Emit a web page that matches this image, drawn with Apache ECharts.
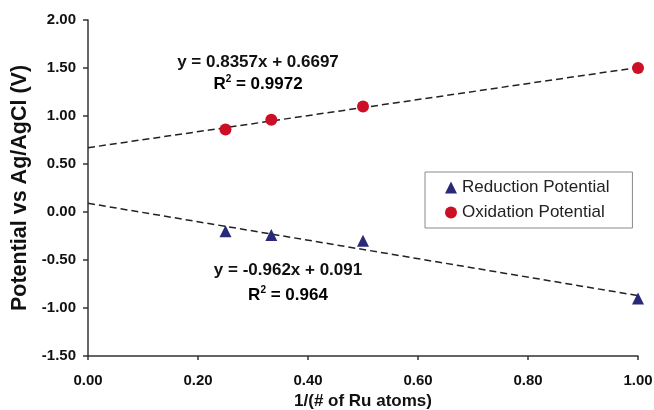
<!DOCTYPE html>
<html>
<head>
<meta charset="utf-8">
<script src="https://cdn.jsdelivr.net/npm/echarts@6/dist/echarts.min.js"></script>
<style>html,body{margin:0;padding:0;background:#fff;}#c{width:654px;height:410px;}</style>
</head>
<body>
<div id="c"></div>
<script>
var xValues = [0.25, 0.3333, 0.5, 1.0];
var reductionValues = [-0.20, -0.24, -0.30, -0.90];
var oxidationValues = [0.86, 0.96, 1.10, 1.50];
var oxTrendX = [0, 1];
var oxTrendY = [0.6697, 1.5054];
var redTrendX = [0, 1];
var redTrendY = [0.091, -0.871];
var xTicks = ['0.00', '0.20', '0.40', '0.60', '0.80', '1.00'];
var oxEquation = 'y = 0.8357x + 0.6697';
var oxR2 = '0.9972';
var redEquation = 'y = -0.962x + 0.091';
var redR2 = '0.964';

function pairs(xs, ys) { return xs.map(function (x, i) { return [x, ys[i]]; }); }

var FONT = '"Liberation Sans", Arial, sans-serif';
var richR2 = {
  a: {fontFamily: FONT, fontWeight: 'bold', fontSize: 17, color: '#111', lineHeight: 20},
  s: {fontFamily: FONT, fontWeight: 'bold', fontSize: 10, color: '#111', verticalAlign: 'top', lineHeight: 12}
};
function r2Text(v) { return '{a|R}{s|2}{a| = ' + v + '}'; }

var chart = echarts.init(document.getElementById('c'), null, {renderer: 'canvas'});
chart.setOption({
  animation: false,
  backgroundColor: '#ffffff',
  grid: {left: 88, right: 16, top: 20, bottom: 54, containLabel: false, outerBoundsMode: 'none'},
  xAxis: {
    type: 'value', min: 0, max: 1, interval: 0.2,
    name: '1/(# of Ru atoms)', nameLocation: 'middle', nameGap: 31,
    nameTextStyle: {fontFamily: FONT, fontWeight: 'bold', fontSize: 17, color: '#111'},
    axisLine: {show: true, onZero: false, lineStyle: {color: '#333', width: 1.5}},
    axisTick: {show: true, inside: false, length: 4, lineStyle: {color: '#333', width: 1.5}},
    axisLabel: {margin: 17, fontFamily: FONT, fontWeight: 'bold', fontSize: 15, color: '#111',
      formatter: function (v) { return xTicks[Math.round(v / 0.2)]; }},
    splitLine: {show: false}
  },
  yAxis: {
    type: 'value', min: -1.5, max: 2, interval: 0.5,
    name: 'Potential vs Ag/AgCl (V)', nameLocation: 'middle', nameGap: 53,
    nameTextStyle: {fontFamily: FONT, fontWeight: 'bold', fontSize: 21.5, color: '#111'},
    axisLine: {show: true, onZero: false, lineStyle: {color: '#333', width: 1.5}},
    axisTick: {show: true, length: 5, lineStyle: {color: '#333', width: 1.5}},
    axisLabel: {margin: 12, fontFamily: FONT, fontWeight: 'bold', fontSize: 15, color: '#111',
      formatter: function (v) { return v.toFixed(2); }},
    splitLine: {show: false}
  },
  legend: {
    orient: 'vertical', left: 425, top: 172,
    padding: [7, 23, 7, 20], itemGap: 8, itemWidth: 12, itemHeight: 12, itemTextGap: 5,
    borderColor: '#8a8a8a', borderWidth: 1, backgroundColor: '#fff',
    textStyle: {fontFamily: FONT, fontSize: 17, color: '#222'},
    data: [{name: 'Reduction Potential', icon: 'triangle'}, {name: 'Oxidation Potential', icon: 'circle'}]
  },
  series: [
    {name: 'oxTrend', type: 'line', data: pairs(oxTrendX, oxTrendY), symbol: 'none', silent: true, z: 1,
      lineStyle: {color: '#222', width: 1.5, type: [7, 4]}},
    {name: 'redTrend', type: 'line', data: pairs(redTrendX, redTrendY), symbol: 'none', silent: true, z: 1,
      lineStyle: {color: '#222', width: 1.5, type: [7, 4]}},
    {name: 'Reduction Potential', type: 'scatter', data: pairs(xValues, reductionValues), symbol: 'triangle',
      symbolSize: 12, itemStyle: {color: '#29297a', opacity: 1}, z: 3},
    {name: 'Oxidation Potential', type: 'scatter', data: pairs(xValues, oxidationValues), symbol: 'circle',
      symbolSize: 12, itemStyle: {color: '#cc0f25', opacity: 1}, z: 3}
  ],
  graphic: [
    {type: 'text', x: 258, y: 62, style: {text: oxEquation, fill: '#111', font: 'bold 17px ' + FONT, textAlign: 'center', textVerticalAlign: 'middle'}},
    {type: 'text', x: 258, y: 84, style: {text: r2Text(oxR2), rich: richR2, textAlign: 'center', textVerticalAlign: 'middle'}},
    {type: 'text', x: 288, y: 270, style: {text: redEquation, fill: '#111', font: 'bold 17px ' + FONT, textAlign: 'center', textVerticalAlign: 'middle'}},
    {type: 'text', x: 288, y: 295, style: {text: r2Text(redR2), rich: richR2, textAlign: 'center', textVerticalAlign: 'middle'}}
  ]
});
</script>
</body>
</html>
